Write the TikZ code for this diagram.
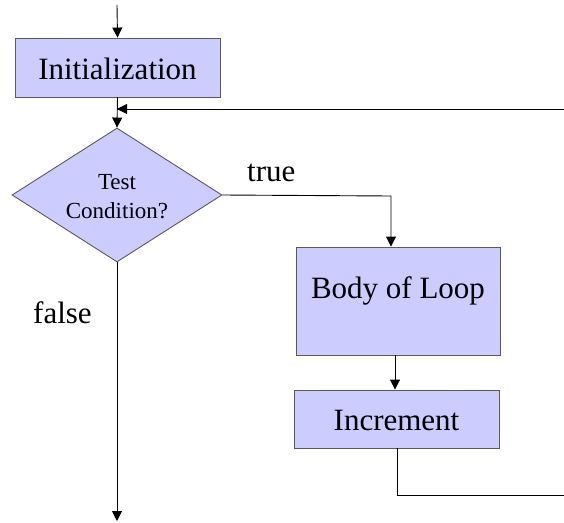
\documentclass[tikz,border=0pt]{standalone}
\usepackage{fontspec}
\setmainfont{LiberationSerif}[Extension=.ttf, UprightFont=*-Regular]
\usetikzlibrary{shapes.geometric,arrows.meta}

\definecolor{boxfill}{HTML}{CCCCFF}
\definecolor{boxline}{HTML}{5A5A5A}

\tikzset{
  box/.style={draw=boxline, fill=boxfill, line width=0.9pt, rectangle,
    inner sep=0pt, font=\rmfamily\fontsize{31}{36}\selectfont},
  decision/.style={draw=boxline, fill=boxfill, line width=0.9pt, diamond,
    inner sep=0pt},
  flow/.style={draw=black, line width=0.9pt},
  arrowed/.style={flow, -{Triangle[length=10pt,width=10pt]}},
  biglabel/.style={font=\rmfamily\fontsize{31}{36}\selectfont, inner sep=0pt, anchor=base west},
}

\begin{document}
\begin{tikzpicture}[x=1pt, y=-1pt]
  \useasboundingbox (0,0) rectangle (564,522);

  % boxes
  \node[box, minimum width=205pt, text height=41pt, text depth=18pt]
    (init) at (117.5,67.5) {Initialization};
  \node[decision, minimum width=210pt, minimum height=134pt]
    (test) at (117,195) {};
  \node[align=center, inner sep=0pt, font=\rmfamily\fontsize{23}{29}\selectfont]
    (testtxt) at (117,197) {Test\\Condition?};
  \node[box, minimum width=204pt, text height=51pt, text depth=57pt]
    (body) at (398,301) {Body of Loop};
  \node[box, minimum width=205pt, text height=40pt, text depth=18pt]
    (inc) at (396.5,419) {Increment};

  % labels
  \node[biglabel] (truelbl) at (247,181) {true};
  \node[biglabel] (falselbl) at (33,323) {false};

  % free ends of the connectors
  \coordinate (entry) at (117,5);
  \coordinate (merge) at (117,109);
  \coordinate (backin) at (564,109);
  \coordinate (trueturn) at (391,196);
  \coordinate (incturn) at (397,495);
  \coordinate (backout) at (564,495);
  \coordinate (exit) at (117,521);

  % connectors
  \draw[arrowed] (entry) -- (init.north);
  \draw[arrowed] (init.south) -- (test.north);
  \draw[arrowed] (backin) -- (merge);
  \draw[arrowed] (test.east) -- (trueturn) -- (trueturn |- body.north);
  \draw[arrowed] (body.south -| 395,0) -- (inc.north -| 395,0);
  \draw[flow] (incturn |- inc.south) -- (incturn) -- (backout);
  \draw[arrowed] (test.south) -- (exit);
\end{tikzpicture}
\end{document}
